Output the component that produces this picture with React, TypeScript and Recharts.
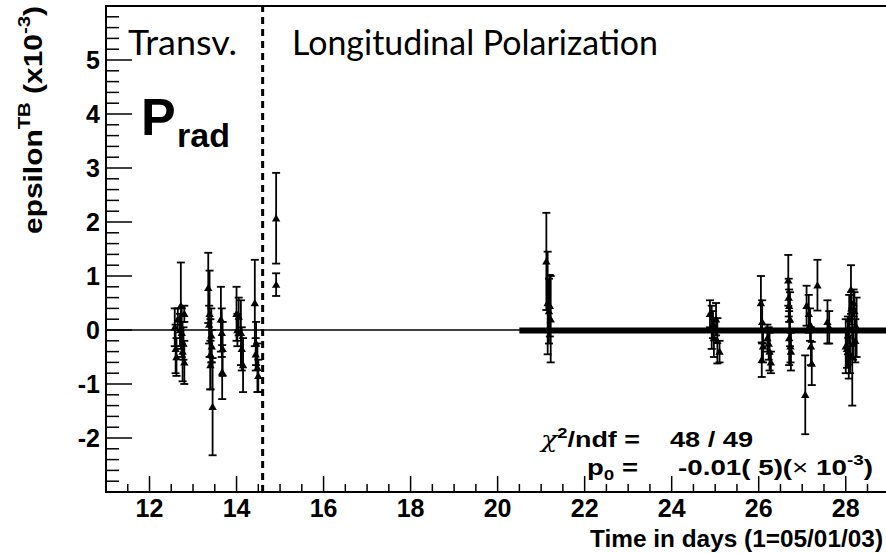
import React from 'react';
import {
  ScatterChart,
  Scatter,
  XAxis,
  YAxis,
  ErrorBar,
  ReferenceLine,
  ReferenceArea,
} from 'recharts';

// ---- data ----
const pointDays = [
  12.58, 12.6, 12.62, 12.65, 12.7, 12.72, 12.74, 12.76, 12.78, 12.8, 12.8,
  13.35, 13.37, 13.38, 13.4, 13.42, 13.43, 13.4, 13.45,
  13.64, 13.66, 13.68, 13.67,
  14.0, 14.02, 14.05, 14.1, 14.12, 14.15,
  14.42, 14.44, 14.45, 14.5, 14.48,
  14.91, 14.91,
  21.12, 21.15, 21.18, 21.2, 21.22,
  24.88, 24.92, 24.95, 24.97, 25.02, 25.05, 25.1,
  26.05, 26.08, 26.07, 26.1, 26.2, 26.23, 26.25, 26.28,
  26.68, 26.69, 26.7, 26.72, 26.7, 26.73, 26.74,
  27.07, 27.1, 27.15, 27.18, 27.2, 27.22, 27.35, 27.58, 27.62,
  28.0, 28.03, 28.05, 28.07, 28.08, 28.1, 28.12, 28.13, 28.15, 28.17, 28.18, 28.2, 28.22, 28.25,
];
const pointValues = [
  0.05, -0.35, -0.5, 0.2, 0.0, 0.45, -0.05, -0.4, -0.25, 0.3, -0.6,
  0.78, 0.1, 0.3, -0.45, -0.1, -0.3, -0.65, -1.42,
  0.2, -0.05, -0.35, -0.78,
  0.3, 0.0, 0.25, -0.05, -0.35, -0.65,
  0.5, -0.45, -0.25, -0.85, -0.7,
  2.07, 0.84,
  1.27, 0.5, 0.35, 0.45, 0.2,
  0.3, 0.05, 0.1, -0.15, 0.2, -0.2, -0.4,
  0.5, 0.15, -0.55, -0.3, -0.15, -0.25, -0.4, -0.6,
  0.92, 0.6, 0.45, 0.2, -0.15, -0.3, -0.4,
  -1.2, 0.45, 0.3, 0.1, -0.3, -0.62, 0.83, 0.15, 0.05,
  -0.3, -0.35, -0.1, -0.6, 0.2, -0.45, 0.75, 0.4, -0.5, -0.25, 0.5, 0.35, -0.2, 0.05,
];
const pointErrors = [
  0.35, 0.45, 0.35, 0.2, 0.3, 0.8, 0.45, 0.55, 0.3, 0.15, 0.4,
  0.65, 0.35, 0.8, 0.65, 0.5, 0.3, 0.45, 0.9,
  0.6, 0.45, 0.5, 0.5,
  0.5, 0.3, 0.35, 0.6, 0.4, 0.5,
  0.8, 0.3, 0.4, 0.3, 0.45,
  0.84, 0.21,
  0.9, 0.95, 0.6, 0.57, 0.8,
  0.25, 0.4, 0.25, 0.35, 0.3, 0.42, 0.2,
  0.5, 0.4, 0.32, 0.3, 0.25, 0.3, 0.35, 0.2,
  0.47, 0.35, 0.3, 0.5, 0.5, 0.3, 0.35,
  0.73, 0.37, 0.35, 0.3, 0.35, 0.4, 0.47, 0.4, 0.3,
  0.5, 0.35, 0.35, 0.3, 0.45, 0.35, 0.45, 0.3, 0.9, 0.3, 0.25, 0.35, 0.4, 0.55,
];

const xMajorTicks = [12, 14, 16, 18, 20, 22, 24, 26, 28];
const yMajorTicks = [-2, -1, 0, 1, 2, 3, 4, 5];
const xDomain: [number, number] = [11, 29.5];
const yDomain: [number, number] = [-3, 6];
const xMinorStep = 0.5;
const yMinorStep = 0.2;
const boundaryDay = 14.6;
const fitRange = [20.5, 29.5];
const fitValue = -0.01;

// ---- derived ----
const data = pointDays.map((d, i) => ({ x: d, y: pointValues[i], err: pointErrors[i] }));

const makeTicks = (lo: number, hi: number, step: number) => {
  const out: number[] = [];
  const n = Math.round((hi - lo) / step);
  for (let i = 0; i <= n; i++) out.push(Math.round((lo + i * step) * 1000) / 1000);
  return out;
};
const xTicks = makeTicks(xDomain[0], xDomain[1], xMinorStep);
const yTicks = makeTicks(yDomain[0], yDomain[1], yMinorStep);

const BOLD = "'Liberation Sans', Arial, Helvetica, sans-serif";

const XTick = (props: any) => {
  const { x, y, payload } = props;
  const v = payload.value;
  const major = xMajorTicks.indexOf(v) >= 0;
  return (
    <g>
      <line x1={x} y1={y} x2={x} y2={y - (major ? 16 : 8)} stroke="#000" strokeWidth={1.5} />
      {major && (
        <text x={x} y={y + 25} textAnchor="middle" fontFamily={BOLD} fontWeight="bold" fontSize={25} fill="#000">
          {v}
        </text>
      )}
    </g>
  );
};

const YTick = (props: any) => {
  const { x, y, payload } = props;
  const v = payload.value;
  const major = yMajorTicks.indexOf(v) >= 0;
  return (
    <g>
      <line x1={x} y1={y} x2={x + (major ? 26 : 13)} y2={y} stroke="#000" strokeWidth={1.5} />
      {major && (
        <text x={x - 6} y={y + 9} textAnchor="end" fontFamily={BOLD} fontWeight="bold" fontSize={25} fill="#000">
          {v}
        </text>
      )}
    </g>
  );
};

const Tri = (props: any) => {
  const { cx, cy } = props;
  if (cx == null || cy == null) return null;
  const h = 4;
  const w = 4.2;
  return <polygon points={`${cx},${cy - h} ${cx + w},${cy + h * 0.8} ${cx - w},${cy + h * 0.8}`} fill="#000" />;
};

export default function App() {
  return (
    <div style={{ position: 'fixed', left: 0, top: 0, width: 886, height: 553, overflow: 'hidden', background: '#fff' }}>
      <ScatterChart width={930} height={553} margin={{ top: 6, right: 19, bottom: 0, left: 0 }}>
        <XAxis
          type="number"
          dataKey="x"
          domain={xDomain}
          ticks={xTicks}
          interval={0}
          allowDataOverflow
          height={61}
          tickSize={0}
          tickMargin={0}
          tickLine={false}
          axisLine={{ stroke: '#000', strokeWidth: 2 }}
          tick={<XTick />}
        />
        <YAxis
          type="number"
          dataKey="y"
          domain={yDomain}
          ticks={yTicks}
          interval={0}
          allowDataOverflow
          width={106}
          tickSize={0}
          tickMargin={0}
          tickLine={false}
          axisLine={{ stroke: '#000', strokeWidth: 2 }}
          tick={<YTick />}
        />
        <ReferenceArea x1={xDomain[0]} x2={xDomain[1]} y1={yDomain[0]} y2={yDomain[1]} fill="none" stroke="#000" strokeWidth={2} fillOpacity={0} />
        <ReferenceLine y={0} stroke="#000" strokeWidth={1.5} />
        <ReferenceLine
          segment={[
            { x: fitRange[0], y: fitValue },
            { x: fitRange[1], y: fitValue },
          ]}
          stroke="#000"
          strokeWidth={6}
        />
        <ReferenceLine x={boundaryDay} stroke="#000" strokeWidth={3} strokeDasharray="7 5" />
        <Scatter data={data} shape={<Tri />} fill="#000" isAnimationActive={false}>
          <ErrorBar dataKey="err" direction="y" width={4} stroke="#000" strokeWidth={1.8} />
        </Scatter>
      </ScatterChart>
      <svg width={886} height={553} style={{ position: 'absolute', left: 0, top: 0, pointerEvents: 'none' }}>
        <text
          transform="translate(42,120) rotate(-90)"
          textAnchor="middle"
          fontFamily={BOLD}
          fontWeight="bold"
          fontSize={25}
          fill="#000"
          textLength={228}
          lengthAdjust="spacingAndGlyphs"
        >
          epsilon
          <tspan dy={-12} fontSize={17}>TB</tspan>
          <tspan dy={12}> (x10</tspan>
          <tspan dy={-12} fontSize={17}>-3</tspan>
          <tspan dy={12}>)</tspan>
        </text>
        <text x={590} y={547} fontFamily={BOLD} fontWeight="bold" fontSize={24} fill="#000" textLength={293} lengthAdjust="spacingAndGlyphs">
          Time in days (1=05/01/03)
        </text>
        <text x={128} y={55} fontFamily="Lato, 'Open Sans', sans-serif" fontSize={34} fill="#000" textLength={109} lengthAdjust="spacingAndGlyphs">
          Transv.
        </text>
        <text x={292} y={55} fontFamily="Lato, 'Open Sans', sans-serif" fontSize={34} fill="#000" textLength={366} lengthAdjust="spacingAndGlyphs">
          Longitudinal Polarization
        </text>
        <text x={141} y={135} fontFamily={BOLD} fontWeight="bold" fontSize={52} fill="#000">
          P
        </text>
        <text x={177} y={147} fontFamily={BOLD} fontWeight="bold" fontSize={34} fill="#000">
          rad
        </text>
        <text x={541} y={447} fontFamily={BOLD} fontWeight="bold" fontSize={22} fill="#000" textLength={99} lengthAdjust="spacingAndGlyphs">
          <tspan fontFamily="'DejaVu Serif', serif" fontWeight="normal" fontStyle="italic">χ</tspan>
          <tspan dy={-9} fontSize={15}>2</tspan>
          <tspan dy={9}>/ndf =</tspan>
        </text>
        <text x={670} y={447} fontFamily={BOLD} fontWeight="bold" fontSize={22} fill="#000" textLength={83} lengthAdjust="spacingAndGlyphs">
          48 / 49
        </text>
        <text x={587} y={475} fontFamily={BOLD} fontWeight="bold" fontSize={22} fill="#000" textLength={51} lengthAdjust="spacingAndGlyphs">
          p<tspan dy={5} fontSize={15}>0</tspan>
          <tspan dy={-5}> =</tspan>
        </text>
        <text x={678} y={475} fontFamily={BOLD} fontWeight="bold" fontSize={22} fill="#000" textLength={195} lengthAdjust="spacingAndGlyphs">
          -0.01( 5)(<tspan fontWeight="normal">×</tspan> 10<tspan dy={-10} fontSize={15}>-3</tspan>
          <tspan dy={10}>)</tspan>
        </text>
      </svg>
    </div>
  );
}
